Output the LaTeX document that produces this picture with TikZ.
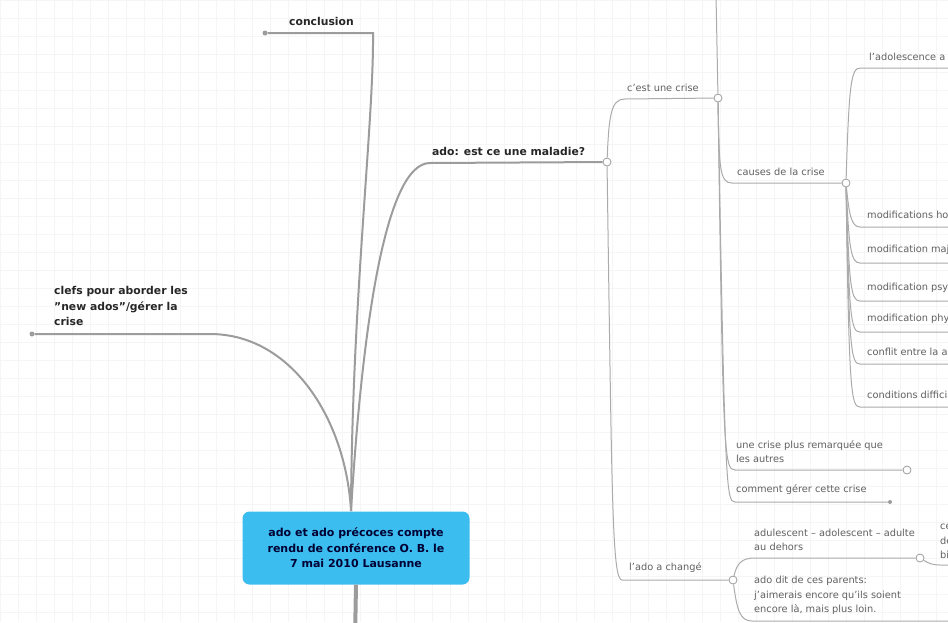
\documentclass[tikz,border=0pt]{standalone}
\usepackage{fontspec}
\setmainfont{DejaVu Sans}
\usepackage{xcolor}
\usetikzlibrary{positioning}
\definecolor{topicblue}{HTML}{3CBDF0}
\definecolor{linegray}{HTML}{9C9C9C}

\begin{document}
\begin{tikzpicture}[x=1pt, y=-1pt,
    topic/.style={rectangle, rounded corners=7pt, fill=topicblue, text=black!80!blue, font=\bfseries\fontsize{11}{15.5}\selectfont, align=center, minimum width=227pt, minimum height=73pt},
    bigtxt/.style={font=\bfseries\fontsize{10.8}{15.5}\selectfont, text=black!85, align=left, anchor=south west, inner sep=1pt},
    smalltxt/.style={font=\fontsize{9.8}{14.5}\selectfont, text=black!62, align=left, anchor=south west, inner sep=1pt},
    joint/.style={circle, draw=linegray, fill=white, line width=0.8pt, inner sep=0pt, minimum size=8pt},
    tipdot/.style={circle, fill=linegray, inner sep=0pt, minimum size=5pt},
    mainline/.style={draw=linegray, line width=2pt},
    subline/.style={draw=linegray!85, line width=1pt}]
    \useasboundingbox (0,0) rectangle (948,622);
    \clip (0,0) rectangle (948,622);
    \fill[white] (0,0) rectangle (948,622);
    \draw[black!4, step=18pt] (0,0) grid (948,622);

    % central topic
    \node [topic] (root) at (356,548) {ado et ado précoces compte\\rendu de conférence O. B. le\\7 mai 2010 Lausanne};
    \coordinate (hub) at (351,511);
    \coordinate (trunk) at (355,640);

    % main branches
    \node [bigtxt] (concl) at (288,27) {conclusion};
    \node [tipdot] (concl-l) at (265,33) {};
    \coordinate (concl-r) at (373,33);
    \node [bigtxt] (clefs) at (53,327) {clefs pour aborder les\\\symbol{34}new ados\symbol{34}/gérer la\\crise};
    \node [tipdot] (clefs-l) at (32,334) {};
    \coordinate (clefs-r) at (210,334);
    \node [bigtxt] (maladie) at (431,157) {ado: est ce une maladie?};
    \coordinate (maladie-l) at (430,163);

    % junctions
    \node [joint] (j1) at (607,162) {};
    \node [joint] (j2) at (718,98) {};
    \node [joint] (j3) at (846,183) {};
    \node [joint] (j4) at (907,470) {};
    \node [joint] (j5) at (733,580) {};
    \node [joint] (j6) at (920,558) {};

    % sub topics
    \node [smalltxt] (crise) at (626,93) {c'est une crise};
    \coordinate (crise-l) at (625,99);
    \coordinate (crise-up) at (716,-5);
    \node [smalltxt] (causes) at (736,177) {causes de la crise};
    \coordinate (causes-l) at (732,183);
    \node [smalltxt] (plus) at (735,464) {une crise plus remarquée que\\les autres};
    \coordinate (plus-l) at (735,470);
    \node [smalltxt] (gerer) at (735,496) {comment gérer cette crise};
    \coordinate (gerer-l) at (735,502);
    \node [tipdot, minimum size=4pt] (gerer-r) at (890,502) {};

    \node [smalltxt] (adol) at (868,62) {l'adolescence a aussi};
    \coordinate (adol-l) at (860,68);
    \coordinate (adol-r) at (960,68);
    \node [smalltxt] (m1) at (866,220) {modifications hormonales};
    \node [smalltxt] (m2) at (866,256) {modification majeure};
    \node [smalltxt] (m3) at (866,294) {modification psychique};
    \node [smalltxt] (m4) at (866,325) {modification physique};
    \node [smalltxt] (m5) at (866,357) {conflit entre la adulte et l'ado};
    \node [smalltxt] (m6) at (866,400) {conditions difficiles};

    \node [smalltxt] (chg) at (628,574) {l'ado a changé};
    \coordinate (chg-l) at (622,580);
    \node [smalltxt] (adul) at (753,552) {adulescent -- adolescent -- adulte\\au dehors};
    \coordinate (adul-l) at (755,558);
    \node [smalltxt] (dit) at (753,616) {ado dit de ces parents:\\j'aimerais encore qu'ils soient\\encore là, mais plus loin.};
    \coordinate (dit-l) at (752,621);
    \coordinate (dit-r) at (960,621);
    \node [smalltxt] (part) at (939,560) {cela\\devient\\bien};
    \coordinate (part-l) at (940,565);
    \coordinate (part-r) at (960,565);

    % connectors
    \draw [mainline, line width=4pt] (root.south) -- (trunk);
    \draw [mainline] (hub) .. controls (352,300) and (374,120) .. (concl-r) -- (concl-l);
    \draw [mainline] (hub) .. controls (346,420) and (292,334) .. (clefs-r) -- (clefs-l);
    \draw [mainline] (hub) .. controls (362,330) and (385,163) .. (maladie-l) -- (j1);

    \draw [subline] (j1) .. controls (609,115) and (611,99) .. (crise-l) -- (j2);
    \draw [subline] (j1) .. controls (612,500) and (612,580) .. (chg-l) -- (j5);
    \draw [subline] (j2) -- (crise-up);
    \draw [subline] (j2) .. controls (719,170) and (720,183) .. (causes-l) -- (j3);
    \draw [subline] (j2) .. controls (723,455) and (724,470) .. (plus-l) -- (j4);
    \draw [subline] (j2) .. controls (725,488) and (726,502) .. (gerer-l) -- (gerer-r);

    \draw [subline] (j3) .. controls (849,85) and (851,68) .. (adol-l) -- (adol-r);
    \foreach \n/\y in {m1/227, m2/263, m3/301, m4/332, m5/364, m6/407}
        \draw [subline] (j3) .. controls (849,\y-14) and (851,\y) .. (860,\y) -- (960,\y);

    \draw [subline] (j5) .. controls (737,563) and (742,558) .. (adul-l) -- (j6);
    \draw [subline] (j5) .. controls (737,610) and (740,621) .. (dit-l) -- (dit-r);
    \draw [subline] (j6) .. controls (928,563) and (932,565) .. (part-l) -- (part-r);
\end{tikzpicture}
\end{document}
